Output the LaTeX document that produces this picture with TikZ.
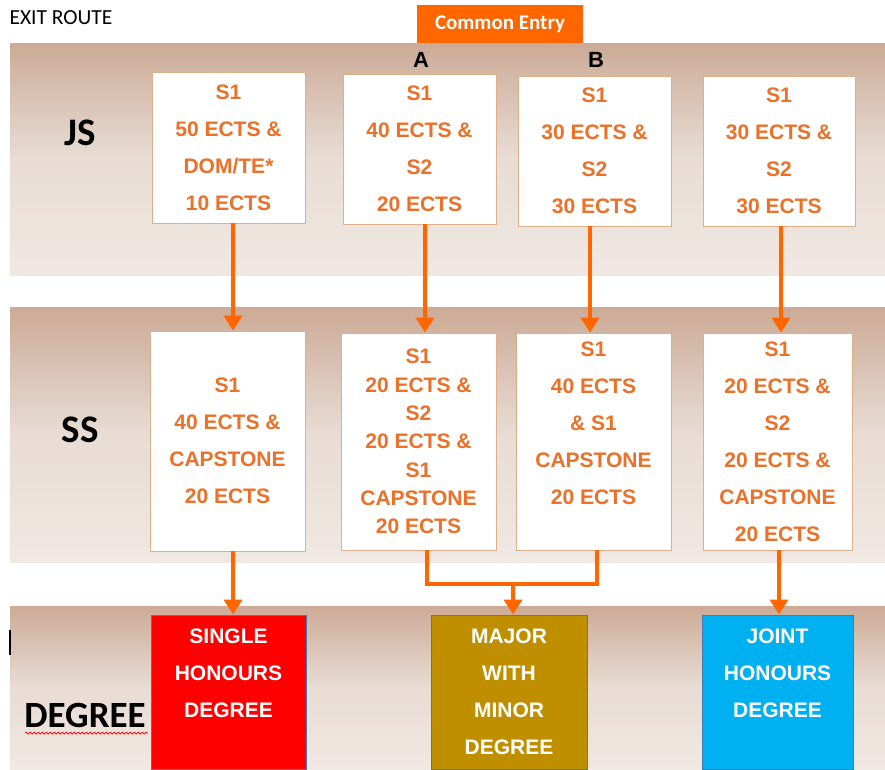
\documentclass[tikz,border=0pt]{standalone}
\usepackage{fontspec}
\setmainfont{Liberation Sans}
\newfontfamily\calibri{Carlito}
\usepackage{tikz}
\usetikzlibrary{arrows.meta, decorations.pathmorphing}
\definecolor{ectsorange}{RGB}{236,112,40}
\definecolor{arroworange}{RGB}{255,102,0}
\definecolor{boxline}{RGB}{222,176,138}
\definecolor{bandtop}{RGB}{204,170,150}
\definecolor{bandmid}{RGB}{232,220,212}
\definecolor{bandbot}{RGB}{240,232,227}
\definecolor{singlered}{RGB}{255,0,0}
\definecolor{majorgold}{RGB}{192,143,0}
\definecolor{jointblue}{RGB}{0,176,240}
\definecolor{degline}{RGB}{70,120,180}
\tikzstyle{band} = [top color=bandtop, bottom color=bandbot, middle color=bandmid]
\tikzstyle{stagebox} = [rectangle, draw=boxline, line width=0.8pt, fill=white,
inner sep=0pt, align=center, text=ectsorange,
font=\bfseries\fontsize{21}{37}\selectfont]
\tikzstyle{degreebox} = [rectangle, draw=degline, line width=1pt, inner sep=0pt,
minimum width=155pt, minimum height=154pt, align=center, text=white,
font=\bfseries\fontsize{21}{37}\selectfont]
\tikzstyle{rowlabel} = [font=\calibri\bfseries\fontsize{39}{42}\selectfont]
\tikzstyle{arrow} = [line width=4pt, arroworange, -{Triangle[width=18pt,length=15pt]}]
\tikzstyle{line} = [line width=4pt, arroworange]

\begin{document}
\begin{tikzpicture}[x=1pt, y=-1pt]
\useasboundingbox (0,0) rectangle (885,769);

% background bands
\fill[band] (10,43) rectangle (885,275);
\fill[band] (10,307) rectangle (885,562);
\fill[band] (10,606) rectangle (885,769);

% headings
\node(exit) at (61,18) {\calibri\fontsize{21.5}{23}\selectfont EXIT ROUTE};
\node(entry)[fill=arroworange, minimum width=166pt, minimum height=38pt, text=white,
font=\calibri\bfseries\fontsize{21}{22}\selectfont] at (500,24) {Common Entry};
\node(a)[font=\bfseries\fontsize{22}{24}\selectfont] at (421,60) {A};
\node(b)[font=\bfseries\fontsize{22}{24}\selectfont] at (596,60) {B};

\node(js)[rowlabel] at (80,133) {JS};
\node(ss)[rowlabel] at (80,430) {SS};
\node(degree)[rowlabel, font=\calibri\bfseries\fontsize{37}{40}\selectfont] at (85,715) {DEGREE};
\draw[red, line width=0.7pt, decorate, decoration={snake, amplitude=1pt, segment length=4pt}]
(25,733) -- (148,733);
\draw[line width=1.5pt] (10,630) -- (10,655);

% junior sophister
\node(js1)[stagebox, minimum width=153pt, minimum height=151pt] at (228.5,147.5)
{S1\\50 ECTS \&\\DOM/TE*\\10 ECTS};
\node(js2)[stagebox, minimum width=153pt, minimum height=150pt] at (419.5,149)
{S1\\40 ECTS \&\\S2\\20 ECTS};
\node(js3)[stagebox, minimum width=153pt, minimum height=150pt] at (594.5,151)
{S1\\30 ECTS \&\\S2\\30 ECTS};
\node(js4)[stagebox, minimum width=152pt, minimum height=150pt] at (779,151)
{S1\\30 ECTS \&\\S2\\30 ECTS};

% senior sophister
\node(ss1)[stagebox, minimum width=155pt, minimum height=220pt] at (227.5,441)
{S1\\40 ECTS \&\\CAPSTONE\\20 ECTS};
\node(ss2)[stagebox, minimum width=155pt, minimum height=217pt,
font=\bfseries\fontsize{21}{28.3}\selectfont] at (418.5,441.5)
{S1\\20 ECTS \&\\S2\\20 ECTS \&\\S1\\CAPSTONE\\20 ECTS};
\node(ss3)[stagebox, minimum width=155pt, minimum height=217pt] at (593.5,441.5)
{S1\\40 ECTS\\\& S1\\CAPSTONE\\20 ECTS\\~};
\node(ss4)[stagebox, minimum width=149pt, minimum height=217pt] at (777.5,441.5)
{S1\\20 ECTS \&\\S2\\20 ECTS \&\\CAPSTONE\\20 ECTS};

% degrees
\node(deg1)[degreebox, fill=singlered] at (228.5,692) {SINGLE\\HONOURS\\DEGREE\\~};
\node(deg2)[degreebox, fill=majorgold, minimum width=156pt] at (509,692)
{MAJOR\\WITH\\MINOR\\DEGREE};
\node(deg3)[degreebox, fill=jointblue, minimum width=151pt] at (777.5,692)
{JOINT\\HONOURS\\DEGREE\\~};

% routes
\draw[arrow] ([xshift=4.5pt]js1.south) -- ([xshift=4.5pt]js1.south |- ss1.north);
\draw[arrow] ([xshift=5.5pt]js2.south) -- ([xshift=5.5pt]js2.south |- ss2.north);
\draw[arrow] ([xshift=-4.5pt]js3.south) -- ([xshift=-4.5pt]js3.south |- ss3.north);
\draw[arrow] ([xshift=2pt]js4.south) -- ([xshift=2pt]js4.south |- ss4.north);

\draw[arrow] ([xshift=5.5pt]ss1.south) -- ([xshift=5.5pt]ss1.south |- deg1.north);
\draw[arrow] ([xshift=1.5pt]ss4.south) -- ([xshift=1.5pt]ss4.south |- deg3.north);
\coordinate (merge) at (513,584);
\draw[line] ([xshift=8.5pt]ss2.south) |- (merge) -| ([xshift=3.5pt]ss3.south);
\draw[arrow] (merge) -- (merge |- deg2.north);

\end{tikzpicture}
\end{document}
